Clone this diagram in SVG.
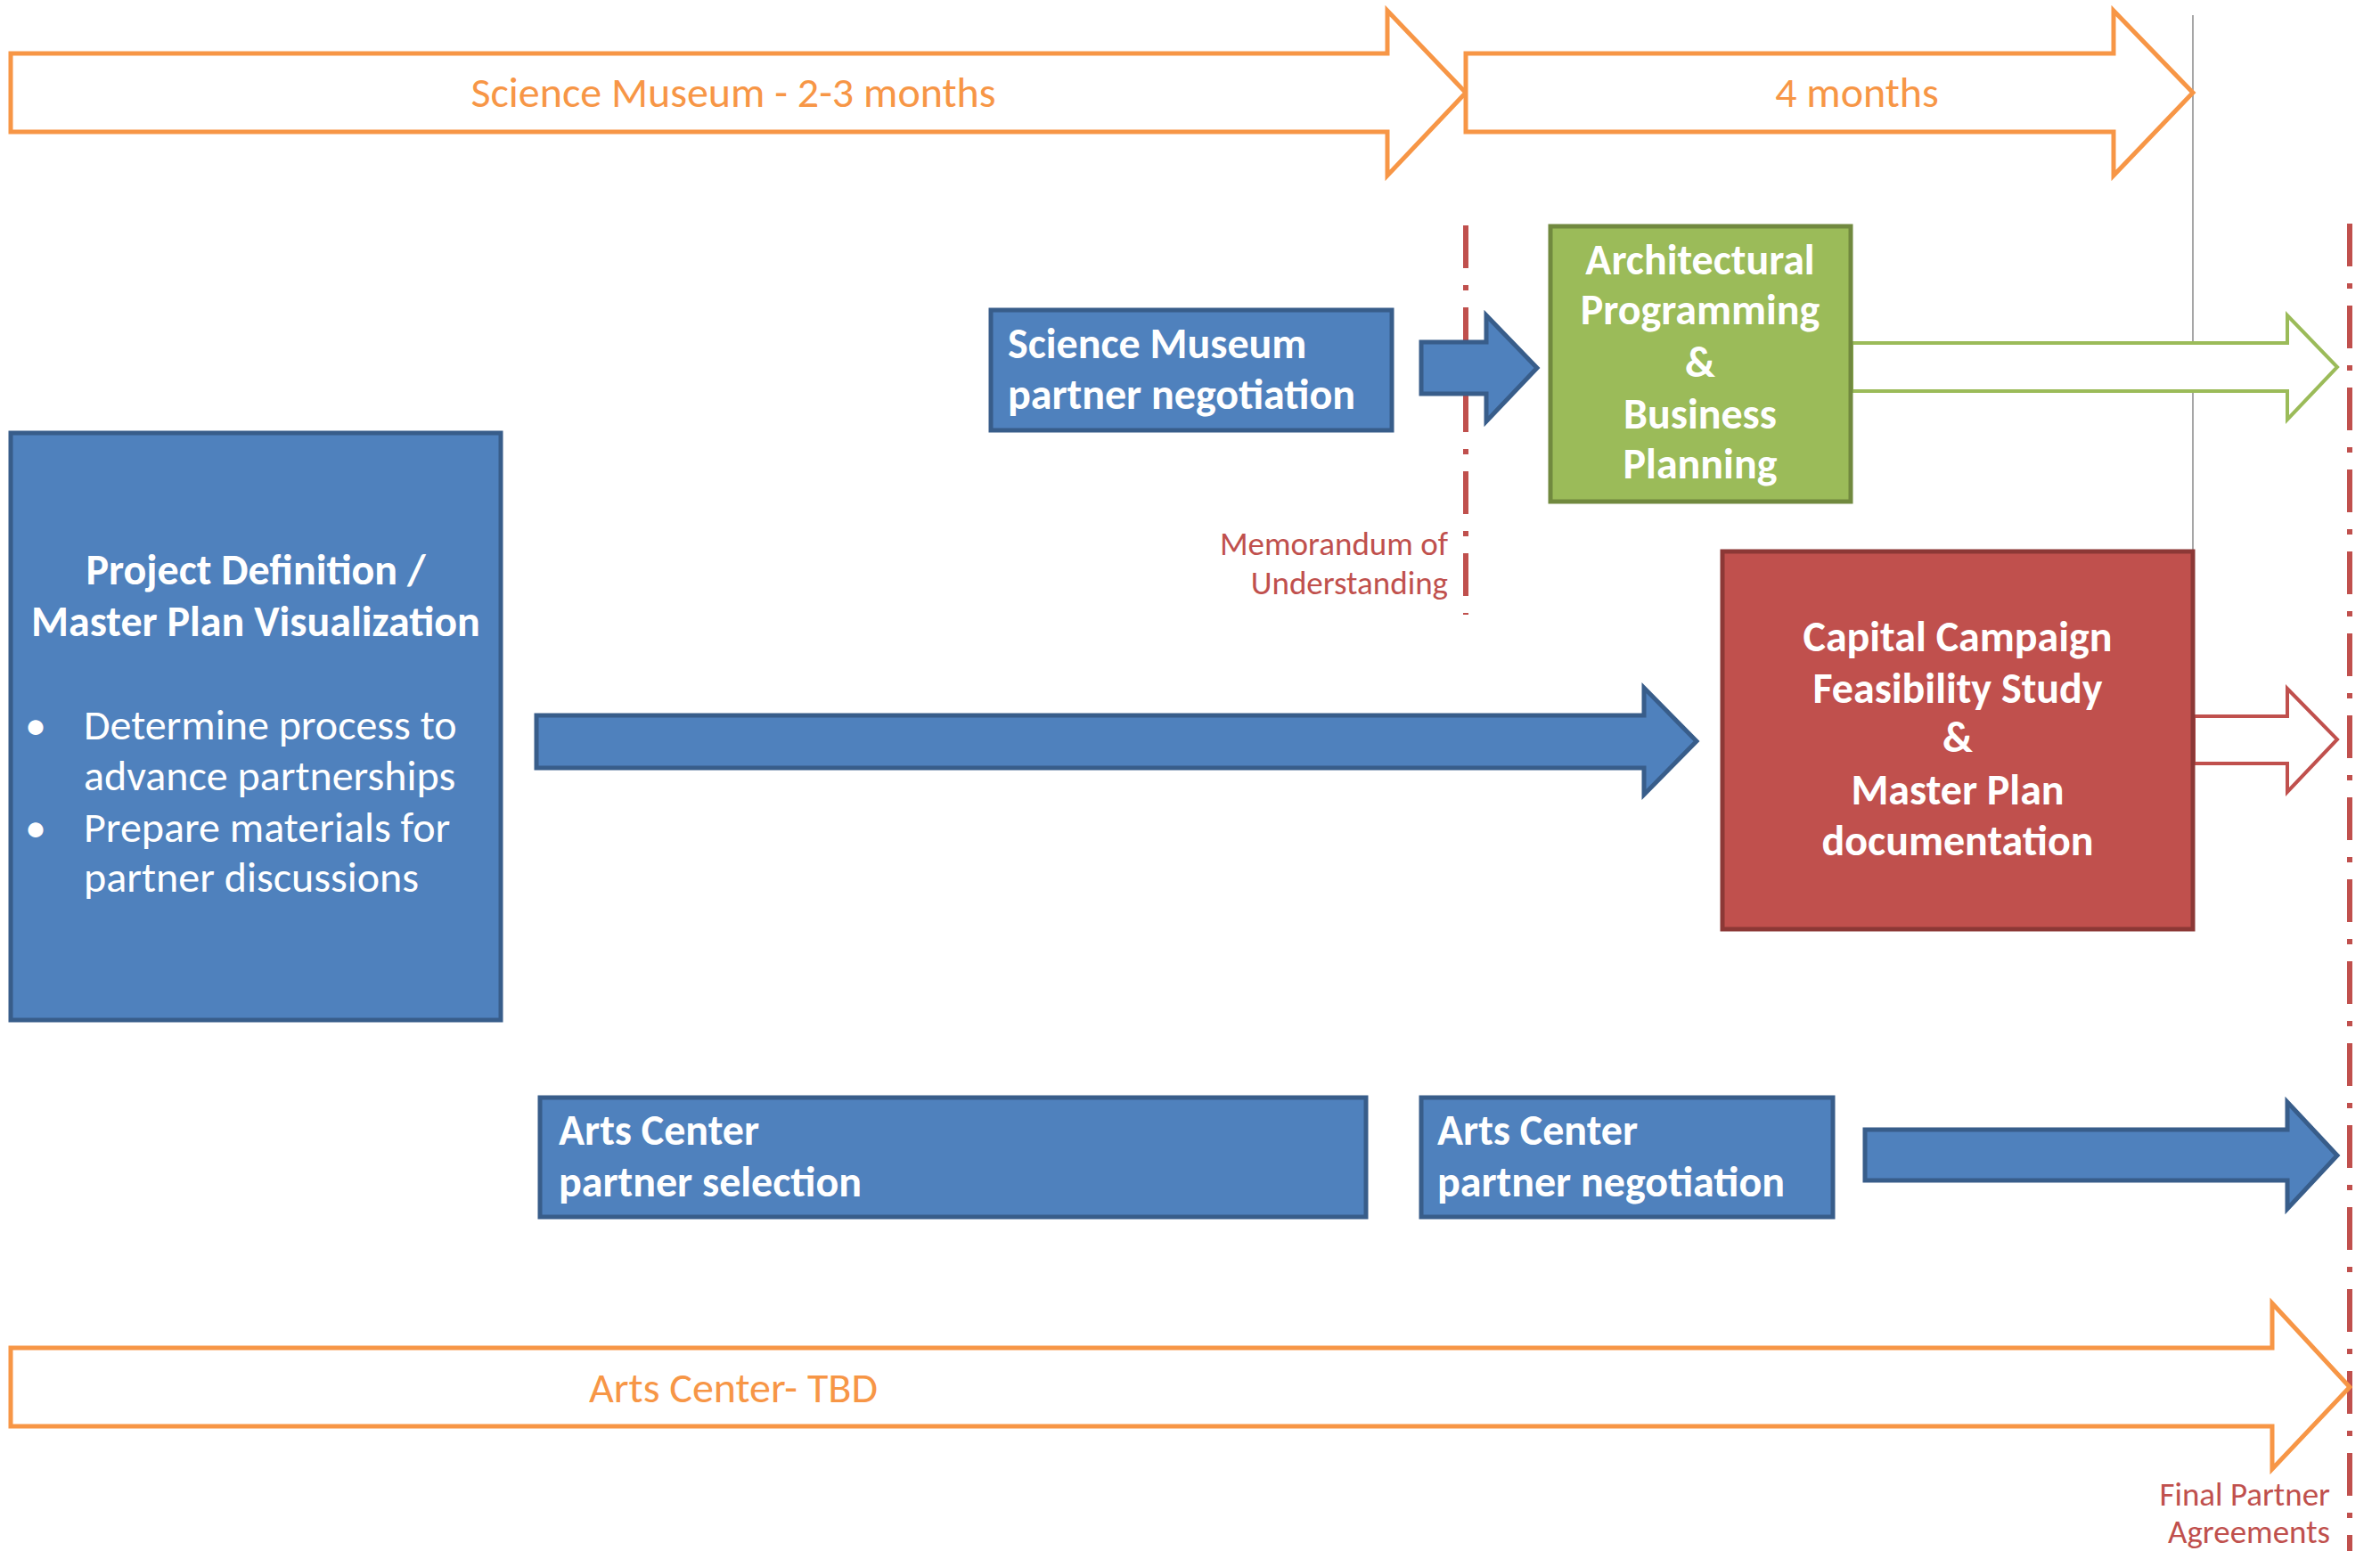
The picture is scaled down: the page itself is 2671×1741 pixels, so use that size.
<svg xmlns="http://www.w3.org/2000/svg" width="2671" height="1741" viewBox="0 0 2671 1741">
<style>
text{font-family:Carlito,Lato,"Open Sans",sans-serif}
.ob{fill:#fff;stroke:#F79646;stroke-width:5}
.ol{fill:#F79646;font-size:48px}
.bl{fill:#4F81BD;stroke:#385D8A;stroke-width:5}
.wt{fill:#fff;font-size:48px;font-weight:bold}
.wr{fill:#fff;font-size:48px}
.rl{fill:#C0504D;font-size:37px}
.dd{stroke:#C0504D;stroke-width:6;stroke-dasharray:48 19 6 19;fill:none}
</style>
<g id="connectors">
<line x1="2461" y1="17" x2="2461" y2="617" stroke="#A6A6A6" stroke-width="2"/>
<line class="dd" x1="1645" y1="253" x2="1645" y2="690"/>
<line class="dd" x1="2637" y1="251" x2="2637" y2="1741"/>
<polygon class="bl" points="1595,384 1668,384 1668,354 1725,413 1668,473 1668,442 1595,442"/>
<polygon class="bl" points="602,803 1845,803 1845,772 1904,832 1845,892 1845,862 602,862"/>
<polygon class="bl" points="2093,1268 2567,1268 2567,1237 2623,1297 2567,1357 2567,1325 2093,1325"/>
<polygon fill="#fff" stroke="#9BBB59" stroke-width="4" points="2078,385 2567,385 2567,354 2623,412 2567,471 2567,439 2078,439"/>
<polygon fill="#fff" stroke="#C0504D" stroke-width="4" points="2462,804 2567,804 2567,773 2623,830 2567,889 2567,857 2462,857"/>
</g>
<g id="timeline-science">
<polygon class="ob" points="12,60 1557,60 1557,12 1645,104 1557,197 1557,148 12,148"/>
<text class="ol" x="823" y="120" text-anchor="middle">Science Museum - 2-3 months</text>
</g>
<g id="timeline-4months">
<polygon class="ob" points="1645,60 2372,60 2372,12 2461,104 2372,197 2372,148 1645,148"/>
<text class="ol" x="2084" y="120" text-anchor="middle">4 months</text>
</g>
<g id="timeline-arts">
<polygon class="ob" points="12,1513 2550,1513 2550,1463 2637,1557 2550,1649 2550,1601 12,1601"/>
<text class="ol" x="823" y="1574" text-anchor="middle">Arts Center- TBD</text>
</g>
<g id="project-definition">
<rect class="bl" x="12" y="486" width="550" height="659"/>
<text class="wt" x="287" y="656" text-anchor="middle">Project Definition /</text>
<text class="wt" x="287" y="714" text-anchor="middle">Master Plan Visualization</text>
<text class="wr" x="40" y="830" text-anchor="middle">•</text>
<text class="wr" x="94" y="830">Determine process to</text>
<text class="wr" x="94" y="887">advance partnerships</text>
<text class="wr" x="40" y="945" text-anchor="middle">•</text>
<text class="wr" x="94" y="945">Prepare materials for</text>
<text class="wr" x="94" y="1001">partner discussions</text>
</g>
<g id="science-negotiation">
<rect class="bl" x="1112" y="348" width="450" height="135"/>
<text class="wt" x="1131" y="402">Science Museum</text>
<text class="wt" x="1131" y="459">partner negotiation</text>
</g>
<g id="architectural">
<rect x="1740" y="254" width="337" height="309" fill="#9BBB59" stroke="#71893F" stroke-width="5"/>
<text class="wt" x="1908" y="308" text-anchor="middle">Architectural</text>
<text class="wt" x="1908" y="364" text-anchor="middle">Programming</text>
<text class="wt" x="1908" y="423" text-anchor="middle">&amp;</text>
<text class="wt" x="1908" y="481" text-anchor="middle">Business</text>
<text class="wt" x="1908" y="537" text-anchor="middle">Planning</text>
</g>
<g id="mou">
<text class="rl" x="1625" y="623" text-anchor="end">Memorandum of</text>
<text class="rl" x="1625" y="667" text-anchor="end">Understanding</text>
</g>
<g id="capital-campaign">
<rect x="1933" y="619" width="528" height="424" fill="#C0504D" stroke="#8C3836" stroke-width="5"/>
<text class="wt" x="2197" y="731" text-anchor="middle">Capital Campaign</text>
<text class="wt" x="2197" y="789" text-anchor="middle">Feasibility Study</text>
<text class="wt" x="2197" y="844" text-anchor="middle">&amp;</text>
<text class="wt" x="2197" y="903" text-anchor="middle">Master Plan</text>
<text class="wt" x="2197" y="960" text-anchor="middle">documentation</text>
</g>
<g id="arts-selection">
<rect class="bl" x="606" y="1232" width="927" height="134"/>
<text class="wt" x="627" y="1285">Arts Center</text>
<text class="wt" x="627" y="1343">partner selection</text>
</g>
<g id="arts-negotiation">
<rect class="bl" x="1595" y="1232" width="462" height="134"/>
<text class="wt" x="1613" y="1285">Arts Center</text>
<text class="wt" x="1613" y="1343">partner negotiation</text>
</g>
<g id="final-agreements">
<text class="rl" x="2615" y="1690" text-anchor="end">Final Partner</text>
<text class="rl" x="2615" y="1732" text-anchor="end">Agreements</text>
</g>
</svg>
